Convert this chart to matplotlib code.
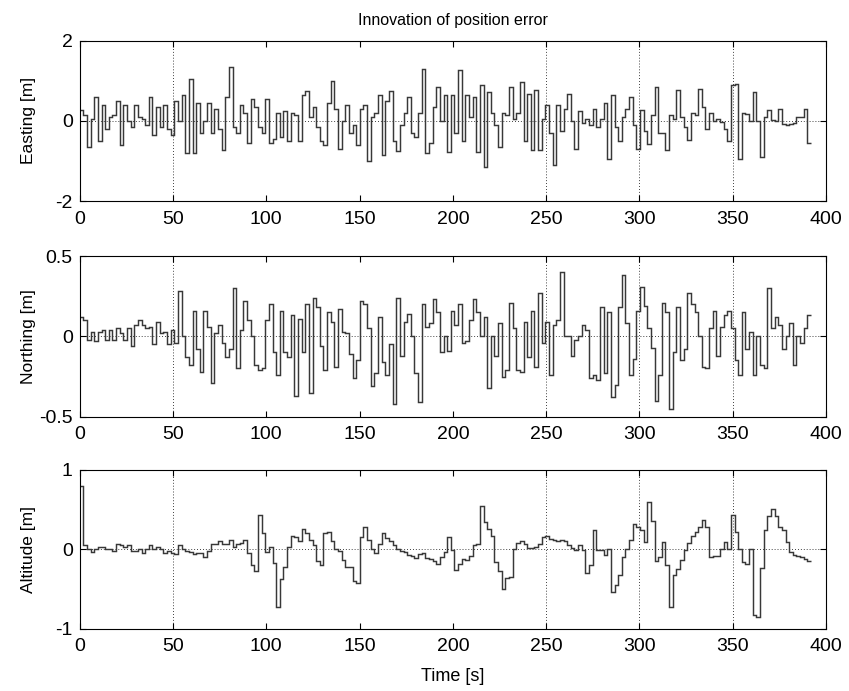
#!/usr/bin/env python3
"""Innovation of position error: Easting / Northing / Altitude step traces."""

import numpy as np
import matplotlib

matplotlib.use("Agg")
import matplotlib.pyplot as plt

# sample spacing of the innovation sequence [s]
DT = 1.95

EASTING = [
    0.27, 0.15, -0.65, 0.05, 0.6, -0.5, 0.4, -0.2, 0.1, 0.15,
    0.5, -0.6, 0.4, 0.0, -0.15, 0.4, 0.1, 0.05, -0.1, 0.6,
    -0.35, 0.35, -0.15, 0.4, -0.2, -0.35, 0.5, 0.0, 0.65, -0.8,
    1.05, -0.8, 0.45, -0.3, 0.0, 0.45, -0.3, 0.3, -0.2, -0.73,
    0.6, 1.35, -0.15, -0.3, 0.4, 0.2, -0.55, 0.55, 0.35, -0.15,
    -0.3, 0.55, -0.55, -0.45, 0.2, -0.4, 0.25, -0.5, 0.2, 0.15,
    -0.5, 0.65, 0.75, 0.1, 0.35, -0.15, -0.5, -0.6, 0.45, 1.0,
    0.3, -0.7, 0.0, 0.4, -0.3, -0.1, -0.6, 0.3, 0.4, -1.0,
    0.1, 0.2, 0.65, -0.85, 0.5, 0.75, -0.5, -0.75, -0.1, 0.2,
    0.6, -0.3, -0.4, 0.2, 1.3, -0.8, -0.55, 0.35, 0.85, 0.0,
    0.65, -0.78, 0.65, -0.3, 1.27, -0.5, 0.65, 0.1, 0.6, -0.78,
    0.9, -1.15, 0.72, 0.2, -0.1, -0.65, 0.2, 0.15, 0.85, 0.05,
    0.2, 0.97, -0.5, 0.68, -0.73, 0.77, -0.73, 0.05, 0.4, -0.3,
    -1.1, 0.4, -0.25, 0.3, 0.68, 0.0, -0.7, 0.25, -0.05, 0.05,
    -0.1, 0.3, -0.15, 0.05, 0.45, -0.95, 0.65, -0.15, -0.5, 0.1,
    0.3,
    0.6, -0.1, -0.7, 0.27, -0.25, -0.57, 0.15, 0.85, -0.3, -0.3,
    -0.73, 0.15, 0.05, 0.77, 0.1, -0.15, -0.48, 0.2, 0.15, 0.8,
    0.35, -0.2, 0.2, 0.0, 0.05, -0.03, -0.2, -0.5, 0.9, 0.93,
    -0.95, 0.2, 0.18, 0.0, 0.72, 0.0, -0.9, 0.1, 0.28, 0.02,
    0.0, 0.3, -0.07, -0.1, -0.07, -0.05, 0.1, 0.1, 0.3, -0.55,
]

NORTHING = [
    0.12, 0.1, -0.02, 0.03, -0.03, 0.03, 0.04, -0.02, 0.04, -0.02,
    0.05, 0.02, -0.02, 0.05, -0.06, 0.07, 0.1, 0.07, 0.05, 0.06,
    -0.05, 0.09, 0.02, 0.03, -0.05, 0.04, -0.04, 0.28, 0.0, -0.13,
    -0.18, 0.16, -0.08, -0.22, 0.16, 0.06, -0.29, 0.02, 0.07, -0.04,
    -0.13, -0.08, 0.3, -0.2, 0.04, 0.22, 0.1, 0.0, -0.18, -0.21,
    -0.2, 0.1, 0.2, -0.1, -0.24, 0.16, -0.1, -0.13, 0.13, -0.37,
    0.11, -0.1, 0.2, -0.35, 0.24, 0.18, -0.06, -0.21, 0.15, 0.09,
    -0.19, 0.17, 0.03, 0.02, -0.11, -0.26, -0.15, 0.22, 0.2, 0.05,
    -0.31, -0.23, 0.12, -0.16, -0.24, -0.05, -0.42, 0.24, -0.12, 0.09,
    0.14, 0.0, -0.23, -0.41, 0.2, 0.06, 0.08, 0.23, 0.15, -0.1,
    0.0, -0.09, 0.16, 0.07, 0.2, -0.04, -0.03, 0.1, 0.23, 0.15,
    0.0, 0.12, -0.32, 0.0, -0.12, 0.08, -0.25, -0.21, 0.21, 0.05,
    -0.21, -0.22, 0.09, -0.13, 0.16, -0.19, 0.27, -0.04, 0.09, -0.24,
    0.07, 0.1, 0.4, 0.0, 0.0, -0.12, -0.02, 0.0, 0.07, 0.04,
    -0.26, -0.24, -0.27, 0.18, -0.23, 0.15, -0.38, -0.3, 0.18, 0.38,
    0.08,
    -0.24, -0.14, 0.16, 0.31, 0.19, 0.05, -0.07, -0.4, -0.24, 0.21,
    0.15, -0.45, -0.1, 0.18, -0.15, -0.08, 0.27, 0.2, 0.15, 0.0,
    -0.19, -0.2, 0.05, 0.16, -0.12, 0.06, 0.13, 0.16, 0.05, -0.15,
    -0.24, 0.15, -0.08, 0.03, -0.24, 0.0, -0.18, -0.2, 0.3, 0.05,
    0.12, 0.07, -0.08, 0.0, 0.08, -0.18, 0.0, -0.04, 0.05, 0.13,
]

ALTITUDE = [
    0.8, 0.05, 0.0, -0.03, 0.0, 0.03, 0.03, 0.0, 0.0, -0.02,
    0.07, 0.05, 0.03, 0.05, -0.02, -0.02, 0.0, -0.05, 0.0, 0.05,
    0.0, 0.03, 0.0, -0.05, -0.02, -0.05, -0.06, 0.05, 0.0, -0.02,
    -0.03, -0.06, -0.05, -0.05, -0.1, -0.02, 0.07, 0.06, 0.1, 0.07,
    0.06, 0.12, 0.03, 0.07, 0.08, 0.11, -0.05, -0.2, -0.28, 0.43,
    0.2, -0.03, 0.03, -0.17, -0.73, -0.38, -0.22, 0.03, 0.17, 0.15,
    0.1, 0.25, 0.2, 0.12, 0.05, -0.15, -0.2, 0.2, 0.22, 0.1,
    0.0, -0.02, -0.14, -0.22, -0.22, -0.4, -0.42, 0.15, 0.28, 0.12,
    0.0, -0.05, 0.07, 0.2, 0.14, 0.1, 0.05, 0.0, -0.02, -0.04,
    -0.07, -0.08, -0.11, -0.06, -0.05, -0.11, -0.12, -0.15, -0.18, -0.1,
    -0.03, 0.15, -0.01, -0.26, -0.18, -0.12, -0.14, -0.08, 0.05, 0.07,
    0.55, 0.34, 0.25, 0.17, -0.16, -0.27, -0.5, -0.36, -0.35, 0.0,
    0.08, 0.1, 0.07, 0.01, 0.01, 0.03, 0.07, 0.15, 0.16, 0.13,
    0.11, 0.1, 0.12, 0.1, 0.05, 0.02, -0.01, 0.05, -0.01, -0.3,
    -0.2, 0.24, -0.01, -0.01, -0.07, 0.0, -0.54, -0.45, -0.33, -0.1,
    0.0,
    0.12, 0.32, 0.28, 0.24, 0.09, 0.6, 0.35, -0.15, -0.1, 0.09,
    -0.2, -0.73, -0.32, -0.25, -0.14, -0.01, 0.08, 0.16, 0.22, 0.28,
    0.37, 0.28, -0.1, -0.08, -0.08, 0.0, 0.09, 0.0, 0.43, 0.22,
    0.0, -0.16, -0.18, 0.0, -0.83, -0.85, -0.24, 0.24, 0.42, 0.5,
    0.42, 0.28, 0.24, 0.09, -0.03, -0.07, -0.09, -0.1, -0.12, -0.15,
]

YLABELS = ["Easting [m]", "Northing [m]", "Altitude [m]"]
YLIMS = [(-2, 2), (-0.5, 0.5), (-1, 1)]
YTICKS = [[-2, 0, 2], [-0.5, 0, 0.5], [-1, 0, 1]]
YTICKLABELS = [["-2", "0", "2"], ["-0.5", "0", "0.5"], ["-1", "0", "1"]]
XTICKS = [0, 50, 100, 150, 200, 250, 300, 350, 400]
# only these grid lines survive in the original print
GRID_X = [50, 250, 300, 350]

plt.rcParams["font.family"] = ["Liberation Sans", "DejaVu Sans"]
plt.rcParams["axes.unicode_minus"] = False

fig = plt.figure(figsize=(8.49, 6.91), dpi=100)

# axes boxes in figure fractions (left, bottom, width, height)
boxes = [
    [0.0939, 0.7090, 0.879, 0.2320],
    [0.0939, 0.3970, 0.879, 0.2325],
    [0.0939, 0.0902, 0.879, 0.2300],
]

for i, series in enumerate([EASTING, NORTHING, ALTITUDE]):
    ax = fig.add_axes(boxes[i])
    y = np.asarray(series)
    edges = np.arange(len(y) + 1) * DT
    ax.stairs(y, edges, baseline=None, color="#383838", lw=1.05)

    for gx in GRID_X:
        ax.axvline(gx, color="black", ls=(0, (1, 2.5)), lw=0.6, zorder=0)
    ax.axhline(0, color="black", ls=(0, (1, 2.5)), lw=0.6, zorder=0)

    ax.set_xlim(0, 400)
    ax.set_ylim(*YLIMS[i])
    ax.set_xticks(XTICKS)
    ax.set_yticks(YTICKS[i])
    ax.set_yticklabels(YTICKLABELS[i])
    ax.tick_params(direction="in", top=True, right=True, length=4,
                   width=0.8, labelsize=14)
    ax.tick_params(axis="x", pad=7)
    ax.tick_params(axis="y", pad=5)
    for sp in ax.spines.values():
        sp.set_linewidth(0.8)
    ax.set_ylabel(YLABELS[i], fontsize=12.5)
    ax.yaxis.set_label_coords(-0.058, 0.5)

    if i == 0:
        ax.set_title("Innovation of position error", fontsize=11.5, pad=11)
    if i == 2:
        ax.set_xlabel("Time [s]", fontsize=13, labelpad=9)

fig.savefig("out.png", dpi=100)
